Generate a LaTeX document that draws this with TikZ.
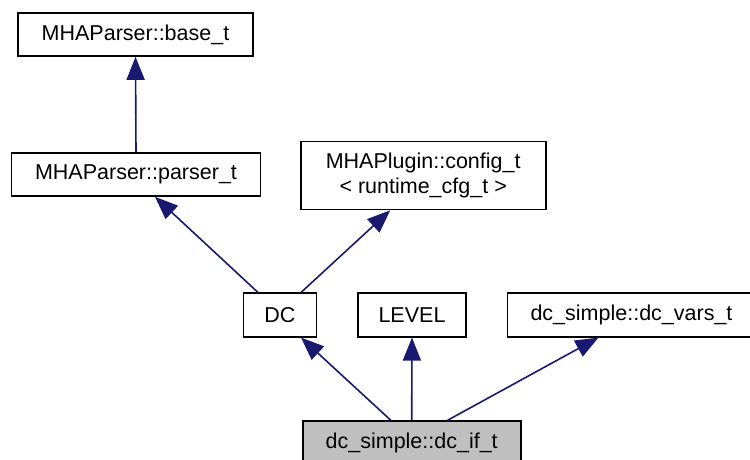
\documentclass[tikz,border=0pt]{standalone}
\usepackage{fontspec}
\setmainfont{Liberation Sans}
\usetikzlibrary{arrows.meta}
\definecolor{edgeblue}{RGB}{25,25,112}
\definecolor{boxgray}{RGB}{191,191,191}
\tikzset{
  cls/.style={draw=black, line width=1.6pt, fill=white, inner sep=0pt, align=center, font=\fontsize{21.5pt}{25pt}\selectfont, minimum height=43pt},
  inh/.style={draw=edgeblue, line width=1.6pt, -{Triangle[length=23pt,width=18pt]}, fill=none},
}
\begin{document}
\begin{tikzpicture}[x=1pt,y=-1pt]
\useasboundingbox (0,0) rectangle (750,460);
\node[cls, minimum width=235pt] (base) at (135.5,34.5) {MHAParser::base\_t};
\node[cls, minimum width=249pt] (parser) at (136,174.5) {MHAParser::parser\_t};
\node[cls, minimum width=245pt, minimum height=68pt] (config) at (423.2,175.5) {MHAPlugin::config\_t\\< runtime\_cfg\_t >};
\node[cls, minimum width=73pt, minimum height=43.5pt] (dc) at (280,315) {DC};
\node[cls, minimum width=108pt, minimum height=43.5pt] (level) at (412,315) {LEVEL};
\node[cls, minimum width=248pt, minimum height=43.5pt] (vars) at (631.5,315) {dc\_simple::dc\_vars\_t};
\node[cls, fill=boxgray, minimum width=218pt, minimum height=44pt] (dcif) at (411.7,443) {dc\_simple::dc\_if\_t};
\draw[inh] (parser.north) -- (base.south);
\draw[inh] ([xshift=-22pt]dc.north) -- ([xshift=19pt]parser.south);
\draw[inh] ([xshift=21pt]dc.north) -- ([xshift=-33pt]config.south);
\draw[inh] ([xshift=-21pt]dcif.north) -- ([xshift=21pt]dc.south);
\draw[inh] (dcif.north) -- (level.south);
\draw[inh] ([xshift=36pt]dcif.north) -- ([xshift=-33pt]vars.south);
\end{tikzpicture}
\end{document}
